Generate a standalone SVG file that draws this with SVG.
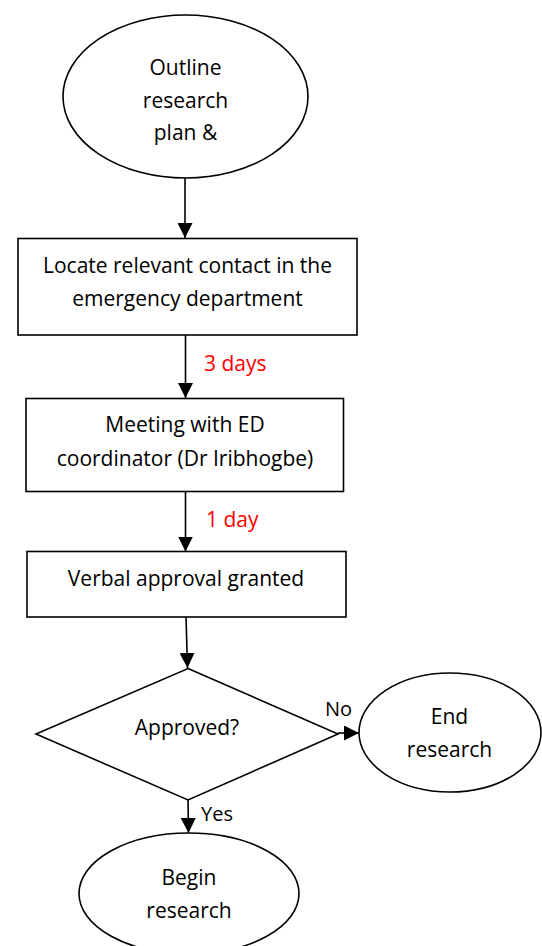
<svg xmlns="http://www.w3.org/2000/svg" width="542" height="946" viewBox="0 0 542 946">
  <style>
    .shape { fill: #ffffff; stroke: #000000; stroke-width: 1.6; }
    .edge { fill: none; stroke: #000000; stroke-width: 1.6; }
    .label { font-family: "Open Sans", "Liberation Sans", sans-serif; font-size: 21px; fill: #000000; text-anchor: middle; }
    .note { font-family: "Open Sans", "Liberation Sans", sans-serif; font-size: 21px; fill: #ff0000; }
    .tag { font-family: "Open Sans", "Liberation Sans", sans-serif; font-size: 20px; fill: #000000; }
  </style>
  <defs>
    <marker id="arrow" markerWidth="15" markerHeight="15" refX="15" refY="7.5" orient="auto" markerUnits="userSpaceOnUse">
      <path d="M0,0 L15,7.5 L0,15 z" fill="#000000"/>
    </marker>
  </defs>
  <rect width="542" height="946" fill="#ffffff"/>

  <!-- connectors -->
  <g id="connectors">
    <line class="edge" x1="185" y1="178" x2="185" y2="238" marker-end="url(#arrow)"/>
    <line class="edge" x1="185.5" y1="335" x2="185.5" y2="398" marker-end="url(#arrow)"/>
    <text class="note" x="204" y="371">3 days</text>
    <line class="edge" x1="185.5" y1="492" x2="185.5" y2="551.5" marker-end="url(#arrow)"/>
    <text class="note" x="206" y="527">1 day</text>
    <line class="edge" x1="186" y1="617" x2="187.5" y2="668" marker-end="url(#arrow)"/>
    <line class="edge" x1="338" y1="733" x2="359" y2="733" marker-end="url(#arrow)"/>
    <text class="tag" x="325" y="716">No</text>
    <line class="edge" x1="188" y1="800" x2="188.5" y2="833" marker-end="url(#arrow)"/>
    <text class="tag" x="201" y="821">Yes</text>
  </g>

  <!-- start -->
  <g id="node-outline">
    <ellipse class="shape" cx="185.5" cy="96.5" rx="122.5" ry="81.5"/>
    <text class="label" x="185.5" y="75">Outline</text>
    <text class="label" x="185.5" y="107.5">research</text>
    <text class="label" x="185.5" y="140">plan &amp;</text>
  </g>

  <g id="node-locate">
    <rect class="shape" x="18" y="238.5" width="339" height="96.5"/>
    <text class="label" x="187.5" y="272.5">Locate relevant contact in the</text>
    <text class="label" x="187.5" y="305.5">emergency department</text>
  </g>

  <g id="node-meeting">
    <rect class="shape" x="26" y="398.5" width="317.5" height="93"/>
    <text class="label" x="185" y="432">Meeting with ED</text>
    <text class="label" x="185" y="466">coordinator (Dr Iribhogbe)</text>
  </g>

  <g id="node-verbal">
    <rect class="shape" x="27" y="551.5" width="319" height="65.5"/>
    <text class="label" x="186" y="586">Verbal approval granted</text>
  </g>

  <g id="node-approved">
    <polygon class="shape" points="188,668.5 338,734 188,800 36,734"/>
    <text class="label" x="187" y="735">Approved?</text>
  </g>

  <g id="node-end">
    <ellipse class="shape" cx="450" cy="732.5" rx="91" ry="59.5"/>
    <text class="label" x="449.5" y="724">End</text>
    <text class="label" x="449.5" y="757">research</text>
  </g>

  <g id="node-begin">
    <ellipse class="shape" cx="189" cy="893.5" rx="110" ry="60.5"/>
    <text class="label" x="189" y="885">Begin</text>
    <text class="label" x="189" y="918">research</text>
  </g>
</svg>
